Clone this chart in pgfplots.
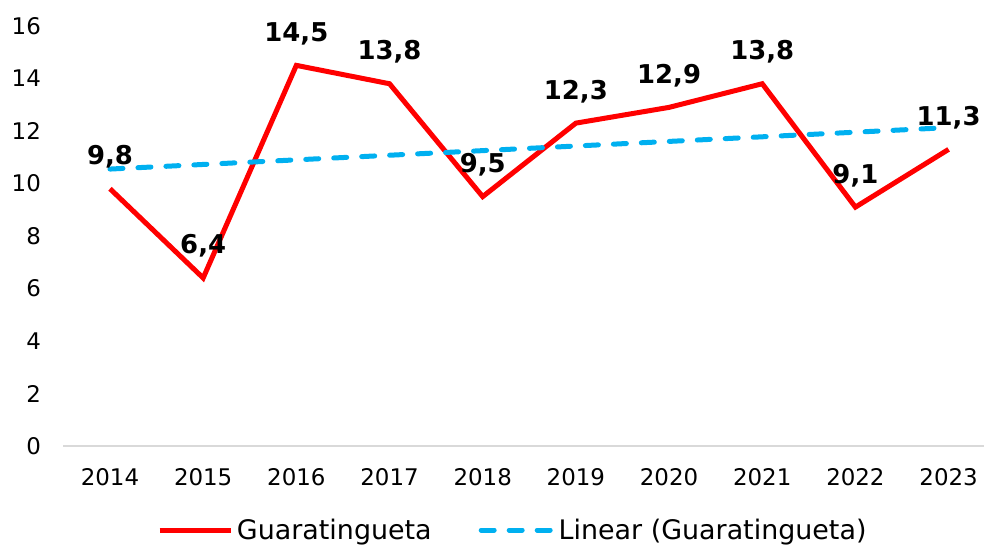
\documentclass[border=0pt]{standalone}
\usepackage{fontspec}
\setmainfont{DejaVu Sans}
\usepackage{pgfplots}
\pgfplotsset{compat=1.18}
\definecolor{tred}{RGB}{255,0,0}
\definecolor{tblue}{RGB}{0,176,240}
\definecolor{axgray}{RGB}{217,217,217}
\pgfplotstableread{
x y label
0 9.8 {9,8}
1 6.4 {6,4}
2 14.5 {14,5}
3 13.8 {13,8}
4 9.5 {9,5}
5 12.3 {12,3}
6 12.9 {12,9}
7 13.8 {13,8}
8 9.1 {9,1}
9 11.3 {11,3}
}\datatable
\begin{document}
\begin{tikzpicture}
\begin{axis}[
  at={(0,0)}, anchor=south west,
  scale only axis, width=920.6bp, height=420bp,
  xmin=-0.5, xmax=9.38, ymin=0, ymax=16,
  xtick={0,...,9}, xticklabels={2014,2015,2016,2017,2018,2019,2020,2021,2022,2023},
  ytick={0,2,...,16},
  tick style={draw=none},
  axis x line*=bottom, axis y line*=left,
  x axis line style={-, draw=axgray, line width=1.5bp},
  y axis line style={draw=none},
  /pgf/number format/assume math mode=true,
  tick label style={font=\fontsize{23}{27}\selectfont},
  yticklabel style={xshift=-19bp},
  xticklabel style={yshift=-19bp},
  clip=false,
  legend image code/.code={\draw[#1] (0bp,0bp) -- (71bp,0bp);},
  legend style={draw=none, fill=none, inner sep=0pt, outer sep=0pt,
    at={(axis description cs:0,0)}, anchor=west, xshift=93.6bp, yshift=-84bp,
    legend columns=2,
    font=\fontsize{27}{32}\selectfont,
    nodes={inner sep=0pt},
    /tikz/every odd column/.append style={column sep=4bp},
    /tikz/every even column/.append style={column sep=47bp}},
]
\addplot[tred, line width=5bp, line join=miter,
  nodes near coords, point meta=explicit symbolic,
  every node near coord/.style={font=\fontsize{26}{30}\selectfont\bfseries, text=black, anchor=base, yshift=24bp}]
  table[x=x, y=y, meta=label] {\datatable};
\addlegendentry{Guaratingueta}
\addplot[tblue, line width=5bp, line cap=round, dash pattern=on 13bp off 15bp]
  coordinates {(0,10.55) (9,12.13)};
\addlegendentry{Linear (Guaratingueta)}
\end{axis}
\pgfresetboundingbox
\path[use as bounding box] (-63.4bp,-100bp) rectangle (920.6bp,446bp);
\end{tikzpicture}
\end{document}
